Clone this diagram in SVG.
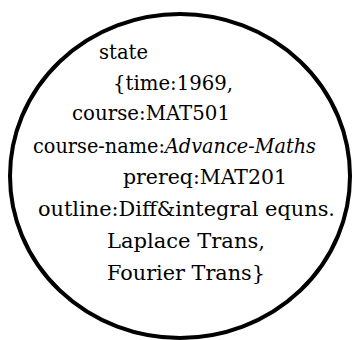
<svg xmlns="http://www.w3.org/2000/svg" width="353" height="340" viewBox="0 0 353 340">
<style>
text{font-family:'DejaVu Serif',serif;font-size:21px;fill:#000}
.i{font-style:italic}
</style>
<rect width="353" height="340" fill="#fff"/>
<g id="state-node">
<ellipse cx="180" cy="176" rx="170" ry="162" fill="none" stroke="#000" stroke-width="4"/>
<text x="99" y="59" textLength="49" lengthAdjust="spacingAndGlyphs">state</text>
<text x="113" y="90" textLength="120" lengthAdjust="spacingAndGlyphs">{time:1969,</text>
<text x="72" y="120" textLength="158" lengthAdjust="spacingAndGlyphs">course:MAT501</text>
<text x="33" y="153" textLength="283" lengthAdjust="spacingAndGlyphs">course-name:<tspan class="i">Advance-Maths</tspan></text>
<text x="123" y="184" textLength="164" lengthAdjust="spacingAndGlyphs">prereq:MAT201</text>
<text x="38" y="216" textLength="297" lengthAdjust="spacingAndGlyphs">outline:Diff&amp;integral equns.</text>
<text x="107" y="248" textLength="158" lengthAdjust="spacingAndGlyphs">Laplace Trans,</text>
<text x="107" y="280" textLength="158" lengthAdjust="spacingAndGlyphs">Fourier Trans}</text>
</g>
<g id="connectors"/>
</svg>
